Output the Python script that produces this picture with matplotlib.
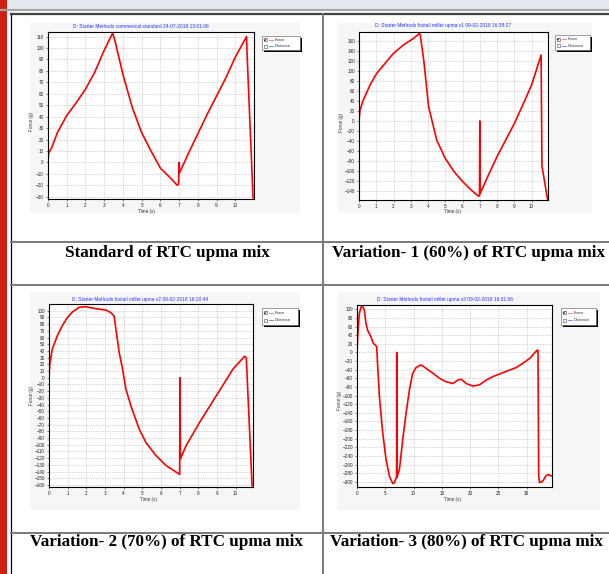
import matplotlib
matplotlib.use("Agg")
import matplotlib.pyplot as plt
from matplotlib.patches import Rectangle

W, H = 609, 574

# Standard (commercial)
std_t = [0, 0.03, 0.2, 0.5, 1, 1.5, 2, 2.5, 3, 3.45, 3.55, 4, 4.5, 5, 5.5, 6, 6.5, 6.9,
         6.97, 7.0, 7.03, 7.5, 8, 8.5, 9, 9.5, 10, 10.6, 10.63, 10.95]
std_f = [0, 8, 13, 26, 41, 52, 64, 79, 98, 113, 108, 77, 48, 26, 10, -5, -13, -20,
         -19, 0, -9, 8, 25, 42, 58, 74, 92, 110, 95, -31]

# Variation 1 (60%)
v1_t = [0, 0.06, 0.25, 0.64, 1.02, 1.6, 1.99, 2.57, 3.15, 3.5, 3.55, 3.75, 4.03, 4.5, 5.0,
        5.5, 6.0, 6.5, 6.9, 6.98, 7.0, 7.02, 7.5, 8, 8.5, 9, 9.5, 10, 10.55, 10.6, 10.93]
v1_f = [0, 22, 42, 72, 95, 119, 135, 152, 165, 175, 172, 122, 29, -38, -75,
        -101, -121, -138, -150, -150, 0, -145, -108, -71, -38, -5, 33, 72, 132, -90, -158]

# Variation 2 (70%)
v2_t = [0, 0.04, 0.18, 0.45, 0.72, 0.99, 1.25, 1.61, 1.97, 2.51, 3.05, 3.32, 3.49, 3.58,
        3.76, 3.94, 4.12, 4.39, 4.84, 5.2, 5.73, 6.27, 6.99, 7.0, 7.02, 7.04, 7.35, 8.06,
        8.96, 9.86, 10.48, 10.57, 10.88]
v2_f = [0, 20, 43, 63, 78, 90, 98, 105, 106, 103, 101, 97, 92, 73,
        38, 13, -17, -42, -77, -97, -116, -131, -144, -144, 0, -121, -101, -67,
        -27, 13, 32, 30, -161]

# Variation 3 (80%)
v3_t = [0, 0.18, 0.41, 0.71, 1.0, 1.3, 1.59, 1.89, 2.48, 2.89, 3.25, 3.49, 3.66, 3.96,
        4.55, 5.14, 5.73, 6.32, 6.62, 6.91, 7.0, 7.03, 7.09, 7.21, 7.5, 8.09, 8.68, 9.27,
        9.86, 10.45, 11.34, 12.23, 13.41, 14.59, 15.77, 16.95, 17.84, 18.43, 19.31, 20.5,
        21.68, 22.86, 24.04, 25.22, 26.99, 28.17, 29.36, 30.54, 31.84, 32.02, 32.14, 32.31,
        32.9, 33.37, 33.79, 34.5]
v3_f = [0, 51, 90, 105, 107, 98, 67, 51, 36, 21, 17, 13, -33, -102,
        -187, -248, -287, -304, -302, -291, -290, 0, -290, -283, -272, -202, -141, -87,
        -48, -35, -29, -37, -48, -60, -68, -72, -64, -62, -72, -78,
        -75, -64, -56, -50, -41, -35, -25, -14, 5, 5, -287, -302,
        -298, -287, -283, -287]

titles = ["D: Starter Methods commerical standard 24-07-2018 13:01:06",
          "D: Starter Methods foxtail millet upma v1 09-02-2018 16:38:27",
          "D: Starter Methods foxtail millet upma v2 09-02-2018 16:20:44",
          "D: Starter Methods foxtail millet upma v3 09-02-2018 16:31:06"]
captions = ["Standard of RTC upma mix", "Variation- 1 (60%) of RTC upma mix",
            "Variation- 2 (70%) of RTC upma mix", "Variation- 3 (80%) of RTC upma mix"]
legend_names = ["Force", "Distance"]

sans = "Liberation Sans"
serif = "Liberation Serif"

fig = plt.figure(figsize=(W / 100, H / 100), dpi=100)
fig.patch.set_facecolor("white")

# background layer in pixel coordinates
bg = fig.add_axes([0, 0, 1, 1])
bg.set_xlim(0, W)
bg.set_ylim(H, 0)
bg.axis("off")

bg.add_patch(Rectangle((0, 0), W, 8.5, fc="#e4e9f0", ec="none"))
bg.plot([0, W], [9.5, 9.5], color="#a4a4a4", lw=1.6)
bg.add_patch(Rectangle((0, 0), 7, H, fc="#cc2114", ec="none"))
bg.plot([11, 11], [13, H], color="black", lw=0.9)
bg.plot([11, W], [14, 14], color="#404040", lw=1.6)
bg.plot([323, 323], [14, H], color="#7a7a7a", lw=1.4)
for yy in [242, 285, 533]:
    bg.plot([11, W], [yy, yy], color="#7a7a7a", lw=1.4)

# light panels behind the charts
for (x0, y0, x1, y1) in [(30, 23, 300, 213), (338, 23, 592, 213),
                         (30, 292, 300, 510), (338, 292, 600, 510)]:
    bg.add_patch(Rectangle((x0, y0), x1 - x0, y1 - y0, fc="#f6f6f6", ec="none"))


def legend(x0, y0, x1, y1):
    w, h = x1 - x0, y1 - y0
    bg.add_patch(Rectangle((x0 + 1.5, y0 + 1.5), w, h, fc="black", ec="none"))
    bg.add_patch(Rectangle((x0, y0), w, h, fc="white", ec="#555555", lw=0.4))
    for i, (name, col) in enumerate(zip(legend_names, ["red", "blue"])):
        yy = y0 + h * (0.28 + 0.44 * i)
        bg.add_patch(Rectangle((x0 + 1.5, yy - 1.5), 3, 3, fc="white", ec="#444444", lw=0.4))
        if i == 0:
            bg.plot([x0 + 2, x0 + 3, x0 + 4.2], [yy, yy + 1, yy - 1.2], color="black", lw=0.4)
        bg.plot([x0 + 7, x0 + 11], [yy, yy], color=col, lw=0.5, alpha=0.7)
        bg.text(x0 + 12.5, yy, name, fontsize=3, family=sans, va="center", color="#333333")


legend(262, 36, 300, 50)
legend(555, 35, 590, 50)
legend(262, 308, 298, 325)
legend(561, 308, 596, 325)

# titles and axis labels
for (x, y), s in zip([(141, 26), (443, 26), (140, 299), (445, 299)], titles):
    bg.text(x, y, s, fontsize=3.5, family=sans, color="#3030ff", ha="center", va="center")
for (x, y) in [(31, 121), (342, 122), (32, 395), (340, 400)]:
    bg.text(x, y, "Force (g)", fontsize=3.3, family=sans, rotation=90,
            ha="center", va="center", color="#333333")
for (x, y) in [(147, 211), (452, 211), (148, 500), (452, 500)]:
    bg.text(x, y, "Time (s)", fontsize=3.3, family=sans, ha="center", va="center",
            color="#333333")

for (x, y), s in zip([(167, 253), (469, 253), (167, 542), (466, 542)], captions):
    bg.text(x, y, s, fontsize=12.3, family=serif, weight="bold", ha="center",
            va="center", color="black")


def chart(box, t, f, xt, yt, xlim, ylim):
    x0, y0, x1, y1 = box
    ax = fig.add_axes([x0 / W, 1 - y1 / H, (x1 - x0) / W, (y1 - y0) / H])
    ax.set_facecolor("white")
    ax.plot(t, f, color="red", lw=1.2)
    ax.set_xlim(xlim)
    ax.set_ylim(ylim)
    ax.set_xticks(xt)
    ax.set_yticks(yt)
    ax.grid(True, ls=(0, (1, 1.5)), color="#b0b0b0", lw=0.5)
    ax.tick_params(labelsize=3.3, length=1.5, width=0.4, pad=1.5, colors="#222222")
    for lab in ax.get_xticklabels() + ax.get_yticklabels():
        lab.set_family(sans)
    for s in ax.spines.values():
        s.set_linewidth(0.8)
    return ax


chart((48, 32, 254, 199), std_t, std_f, range(0, 11), range(-30, 111, 10), (0, 11), (-32, 114))
chart((359, 32, 548, 200), v1_t, v1_f, range(0, 11), range(-140, 161, 20), (0, 10.95), (-158, 178))
chart((49, 304, 253, 487), v2_t, v2_f, range(0, 11), range(-160, 101, 10), (0, 10.93), (-163, 110))
chart((357, 305, 552, 487), v3_t, v3_f, range(0, 31, 5), range(-300, 101, 20), (0, 34.5), (-312, 110))

fig.savefig("out.png", dpi=100)
